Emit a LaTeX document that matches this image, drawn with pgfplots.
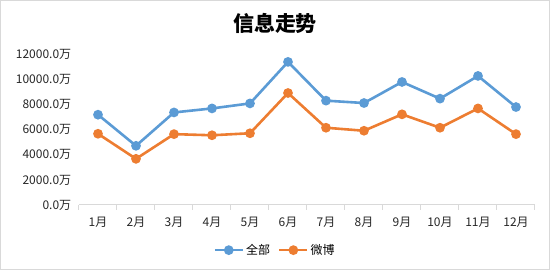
\documentclass[border=0pt]{standalone}
\usepackage{pgfplots}
\pgfplotsset{compat=1.18}
\usepackage{fontspec}
\setmainfont{Noto Sans CJK SC}
\definecolor{allblue}{HTML}{5B9BD5}
\definecolor{weibo}{HTML}{ED7D31}
\definecolor{axgray}{HTML}{D9D9D9}
\begin{document}
\begin{tikzpicture}
\draw[axgray, line width=1pt] (0.5pt,0.5pt) rectangle (549.5pt,269.5pt);
\node[font=\fontsize{21}{24}\selectfont\bfseries] at (275pt,247pt) {信息走势};
\begin{axis}[
    at={(79pt,65pt)}, anchor=south west,
    scale only axis,
    width=456pt, height=150.5pt,
    xmin=0.5, xmax=12.5,
    ymin=0, ymax=12000,
    scaled y ticks=false,
    axis lines*=left,
    y axis line style={draw=none},
    x axis line style={axgray, line width=1pt},
    xtick={1,...,12},
    xticklabels={1月,2月,3月,4月,5月,6月,7月,8月,9月,10月,11月,12月},
    major x tick style={draw=none},
    minor xtick={0.5,1.5,...,12.5},
    minor x tick style={axgray, line width=1pt},
    minor tick length=5pt,
    tick align=outside,
    ytick={0,2000,...,12000},
    yticklabels={0.0万,2000.0万,4000.0万,6000.0万,8000.0万,10000.0万,12000.0万},
    ytick style={draw=none},
    ticklabel style={font=\fontsize{12}{14}\selectfont, text=black!85},
    xticklabel style={yshift=-4pt},
    clip=false,
    legend style={at={(0.43,-0.3)}, anchor=center, draw=none, legend columns=2,
        font=\fontsize{12}{14}\selectfont,
        /tikz/every even column/.append style={column sep=6pt}},
    legend image code/.code={
        \draw[#1] (0pt,0pt) -- (28pt,0pt);
        \fill[#1] (14pt,0pt) circle (3.5pt);
    },
]
\addplot[allblue, line width=2.6pt, mark=*, mark size=3.5pt] coordinates {
(1,7200) (2,4720) (3,7380) (4,7700) (5,8100) (6,11410)
(7,8320) (8,8130) (9,9810) (10,8480) (11,10290) (12,7810)};
\addlegendentry{全部}
\addplot[weibo, line width=2.6pt, mark=*, mark size=3.5pt] coordinates {
(1,5680) (2,3680) (3,5650) (4,5560) (5,5720) (6,8930)
(7,6160) (8,5920) (9,7230) (10,6160) (11,7700) (12,5650)};
\addlegendentry{微博}
\end{axis}
\end{tikzpicture}
\end{document}
